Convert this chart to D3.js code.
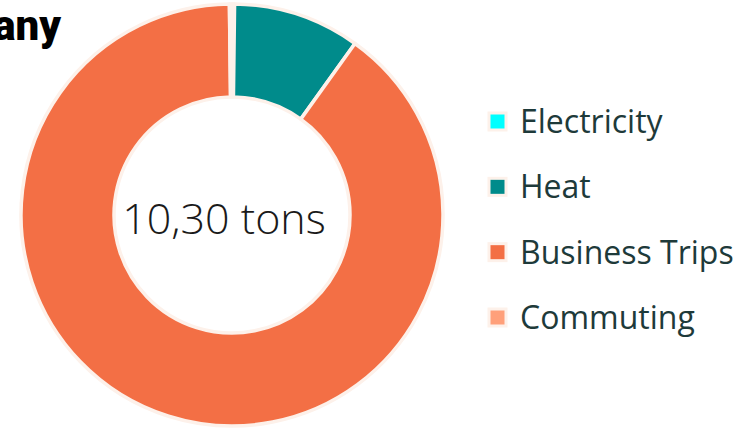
<!DOCTYPE html>
<html lang="en">
<head>
  <meta charset="UTF-8">
  <title>emissions donut</title>
  <script src="https://cdn.jsdelivr.net/npm/d3@7"></script>
  <style>
    body { margin: 0; background: #fff; }
    svg { display: block; }
  </style>
</head>
<body>
<svg></svg>
<script>
  // values in tons
  const categories = ["Electricity", "Heat", "Business Trips", "Commuting"]
  const values = [0.02, 1.00, 9.26, 0.02]
  const colors = ["#00ffff", "#008b8b", "#f36f45", "#ffa07a"]
  const title = "Company"
  const centerLabel = "10,30 tons"

  const width = 742, height = 429
  const cx = 232, cy = 215, outerR = 211, innerR = 118
  const edge = "#fdf1ea"

  const svg = d3.select("svg")
      .attr("width", width)
      .attr("height", height)
      .attr("viewBox", [0, 0, width, height])

  const data = categories.map((name, i) => ({name, value: values[i]}))

  const pie = d3.pie().sort(null).value(d => d.value)
  const arc = d3.arc().innerRadius(innerR).outerRadius(outerR)

  const color = d3.scaleOrdinal().domain(categories).range(colors)

  svg.append("g")
      .attr("transform", `translate(${cx},${cy})`)
    .selectAll("path")
    .data(pie(data))
    .join("path")
      .attr("d", arc)
      .attr("fill", d => color(d.data.name))
      .attr("stroke", edge)
      .attr("stroke-width", 3.5)
      .attr("stroke-linejoin", "round")

  svg.append("text")
      .attr("x", cx - 8)
      .attr("y", 234)
      .attr("text-anchor", "middle")
      .attr("font-family", "'Open Sans', sans-serif")
      .attr("font-weight", 300)
      .attr("font-size", 43)
      .attr("fill", "#1a1a1a")
      .text(centerLabel)

  // title, cut off at the left edge like the original
  svg.append("text")
      .attr("x", 61)
      .attr("y", 40)
      .attr("text-anchor", "end")
      .attr("font-family", "Roboto, sans-serif")
      .attr("font-weight", 900)
      .attr("font-size", 42)
      .attr("fill", "#000")
      .text(title)

  // legend
  const y = d3.scalePoint().domain(categories).range([122, 318])

  const legend = svg.append("g")
    .selectAll("g")
    .data(categories)
    .join("g")
      .attr("transform", d => `translate(489,${y(d)})`)

  legend.append("rect")
      .attr("x", 0)
      .attr("y", -9)
      .attr("width", 17)
      .attr("height", 17)
      .attr("fill", d => color(d))
      .attr("stroke", edge)
      .attr("stroke-width", 3)

  legend.append("text")
      .attr("x", 31)
      .attr("y", 11)
      .attr("font-family", "'Open Sans', sans-serif")
      .attr("font-size", 32)
      .attr("fill", "#1e3a3a")
      .text(d => d)
</script>
</body>
</html>
